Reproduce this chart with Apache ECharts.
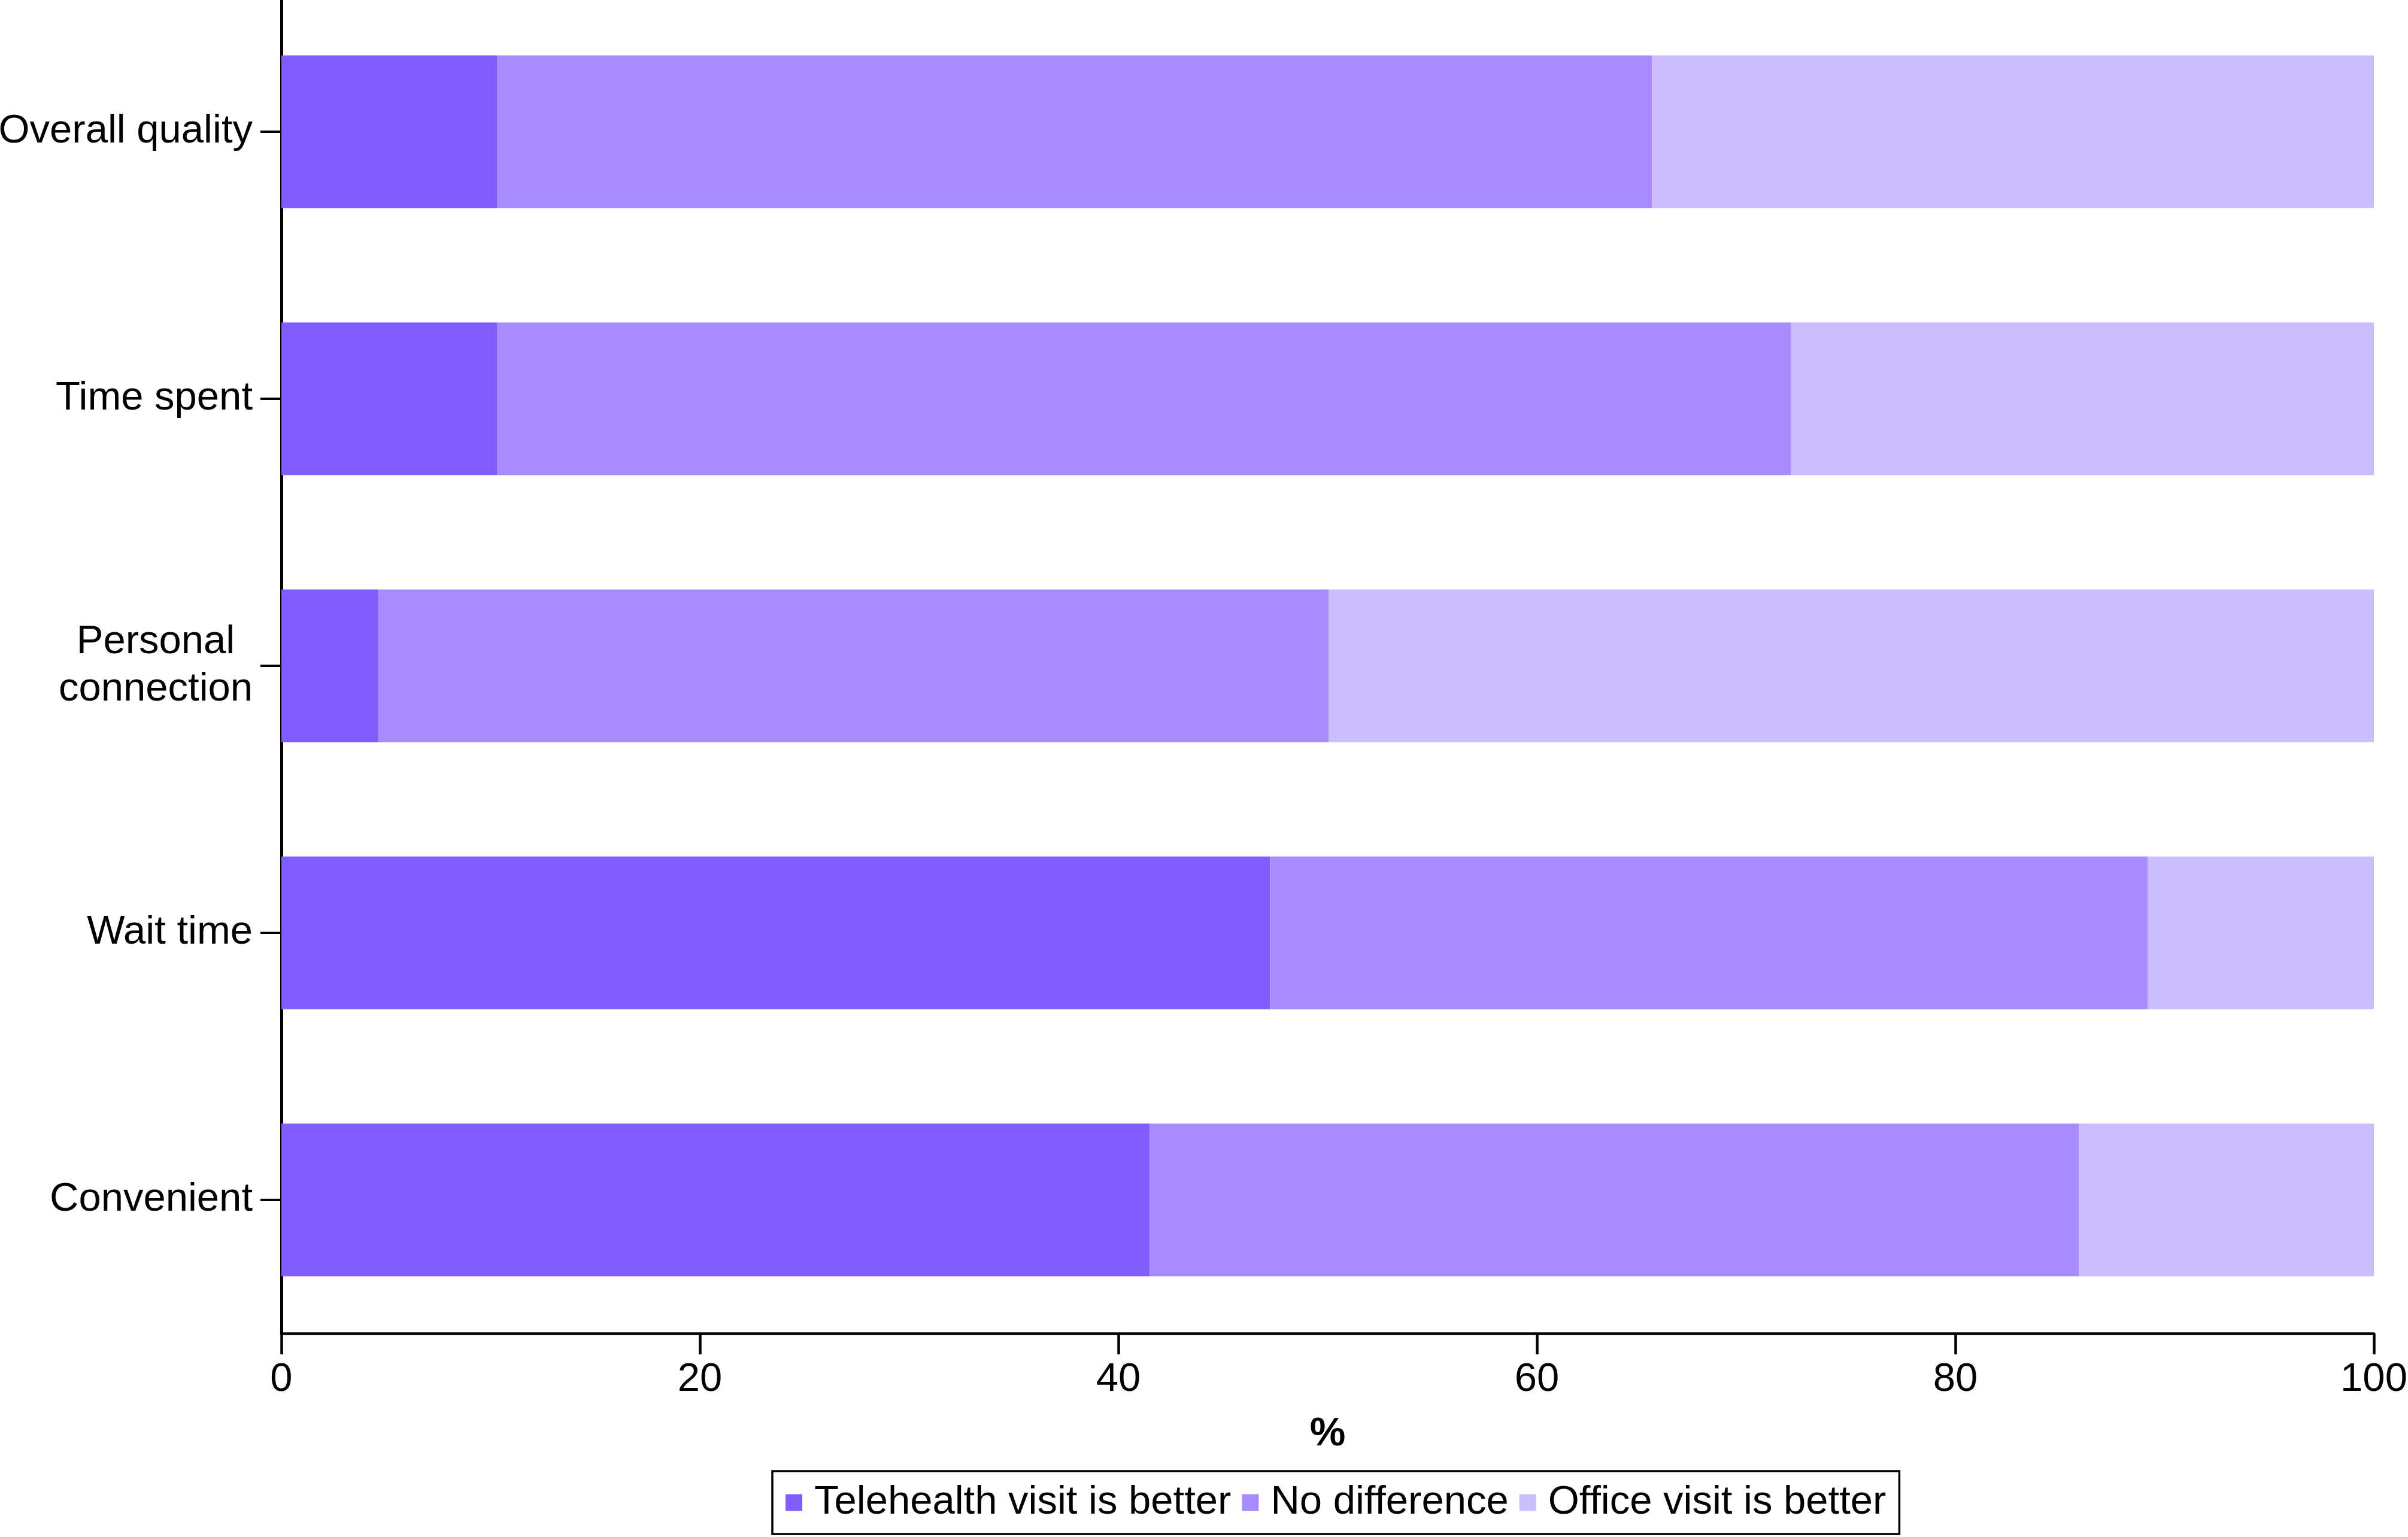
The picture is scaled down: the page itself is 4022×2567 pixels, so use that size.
<!DOCTYPE html>
<html>
<head>
<meta charset="utf-8">
<script src="https://cdn.jsdelivr.net/npm/echarts@6/dist/echarts.min.js"></script>
<style>
  html, body { margin: 0; padding: 0; background: #fff; }
  #chart { width: 4022px; height: 2567px; }
</style>
</head>
<body>
<div id="chart"></div>
<script>
// categories, top to bottom
const categories = ['Overall quality', 'Time spent', 'Personal connection', 'Wait time', 'Convenient']
// percent of respondents per answer (segment widths)
const telehealthBetter = [10.3, 10.3, 4.65, 47.25, 41.5]
const noDifference = [55.2, 61.85, 45.4, 41.95, 44.4]
const officeBetter = [34.5, 27.85, 49.95, 10.8, 14.1]
const xTicks = [0, 20, 40, 60, 80, 100]

const FONT = '"Liberation Sans", Arial, Helvetica, sans-serif'
const colors = ['#825CFF', '#A88CFF', '#CBBEFF']

const chart = echarts.init(document.getElementById('chart'))

const makeSeries = (name, data, color) => ({
  name: name,
  type: 'bar',
  stack: 'total',
  data: data,
  barWidth: 255,
  itemStyle: { color: color },
  emphasis: { disabled: true }
})

const option = {
  animation: false,
  backgroundColor: '#fff',
  grid: { left: 470, right: 57, top: -3, bottom: 340, containLabel: false, outerBoundsMode: 'none' },
  legend: {
    left: 1290,
    top: 2457,
    orient: 'horizontal',
    icon: 'rect',
    itemWidth: 28,
    itemHeight: 28,
    itemGap: 18,
    borderColor: '#000',
    borderWidth: 3.5,
    padding: [19, 22, 19, 22],
    textStyle: {
      fontFamily: FONT,
      fontSize: 67,
      lineHeight: 67,
      color: '#000',
      padding: [0, 0, 0, 15]
    },
    data: ['Telehealth visit is better', 'No difference', 'Office visit is better']
  },
  xAxis: {
    type: 'value',
    min: xTicks[0],
    max: xTicks[xTicks.length - 1],
    interval: 20,
    name: '%',
    nameLocation: 'middle',
    nameGap: 135,
    nameTextStyle: { fontFamily: FONT, fontSize: 67, fontWeight: 'bold', color: '#000' },
    axisLine: { show: true, lineStyle: { color: '#000', width: 4.5 } },
    axisTick: { show: true, length: 35, lineStyle: { color: '#000', width: 4.5 } },
    axisLabel: { fontFamily: FONT, fontSize: 67, color: '#000', margin: 44 },
    splitLine: { show: false }
  },
  yAxis: {
    type: 'category',
    inverse: true,
    data: categories,
    axisLine: { show: true, lineStyle: { color: '#000', width: 5 } },
    axisTick: { show: true, alignWithLabel: true, length: 35, lineStyle: { color: '#000', width: 4 } },
    axisLabel: {
      fontFamily: FONT,
      fontSize: 67,
      color: '#000',
      margin: 48,
      formatter: function (v) {
        if (v === 'Personal connection') return '{c|Personal}\n{c|connection}'
        return v
      },
      rich: {
        c: { fontFamily: FONT, fontSize: 67, color: '#000', width: 324, align: 'center', lineHeight: 79 }
      }
    }
  },
  series: [
    makeSeries('Telehealth visit is better', telehealthBetter, colors[0]),
    makeSeries('No difference', noDifference, colors[1]),
    makeSeries('Office visit is better', officeBetter, colors[2])
  ]
}

chart.setOption(option)
</script>
</body>
</html>
